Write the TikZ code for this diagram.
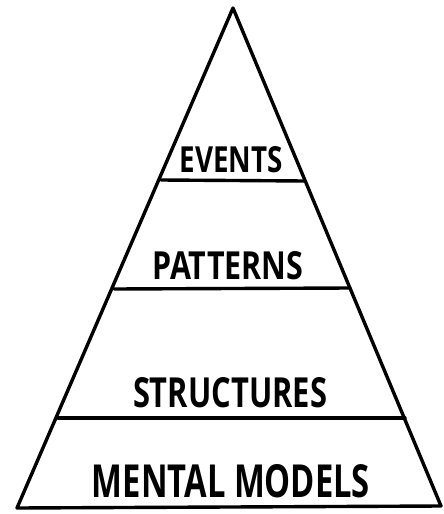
\documentclass[tikz,border=0pt]{standalone}
\usepackage{fontspec}
\setmainfont{Open Sans}
\newcommand{\layertext}[3]{\resizebox{#1pt}{#2pt}{\bfseries #3}}
\begin{document}
\begin{tikzpicture}[x=1pt, y=-1pt, line width=3.4pt, line join=round, line cap=round,
    layer/.style={inner sep=0pt, font=\fontsize{36}{36}\selectfont}]
    \useasboundingbox (0,0) rectangle (444,514);

    \coordinate (top) at (233, 8);
    \coordinate (bl) at (17, 508);
    \coordinate (br) at (441, 506);

    \coordinate (e1) at (161, 180);
    \coordinate (e2) at (305, 181);
    \coordinate (p1) at (114, 289);
    \coordinate (p2) at (350, 288);
    \coordinate (s1) at (58, 418);
    \coordinate (s2) at (405, 418);

    \draw (bl) -- (top) -- (br) -- cycle; % outline
    \draw (e1) -- (e2); % events / patterns
    \draw (p1) -- (p2); % patterns / structures
    \draw (s1) -- (s2); % structures / mental models

    \node[layer] (events) at (231, 160) {\layertext{103}{26}{EVENTS}};
    \node[layer] (patterns) at (228, 266) {\layertext{151}{28}{PATTERNS}};
    \node[layer] (structures) at (230, 393) {\layertext{194}{30}{STRUCTURES}};
    \node[layer] (models) at (231, 481) {\layertext{278}{33}{MENTAL MODELS}};
\end{tikzpicture}
\end{document}
